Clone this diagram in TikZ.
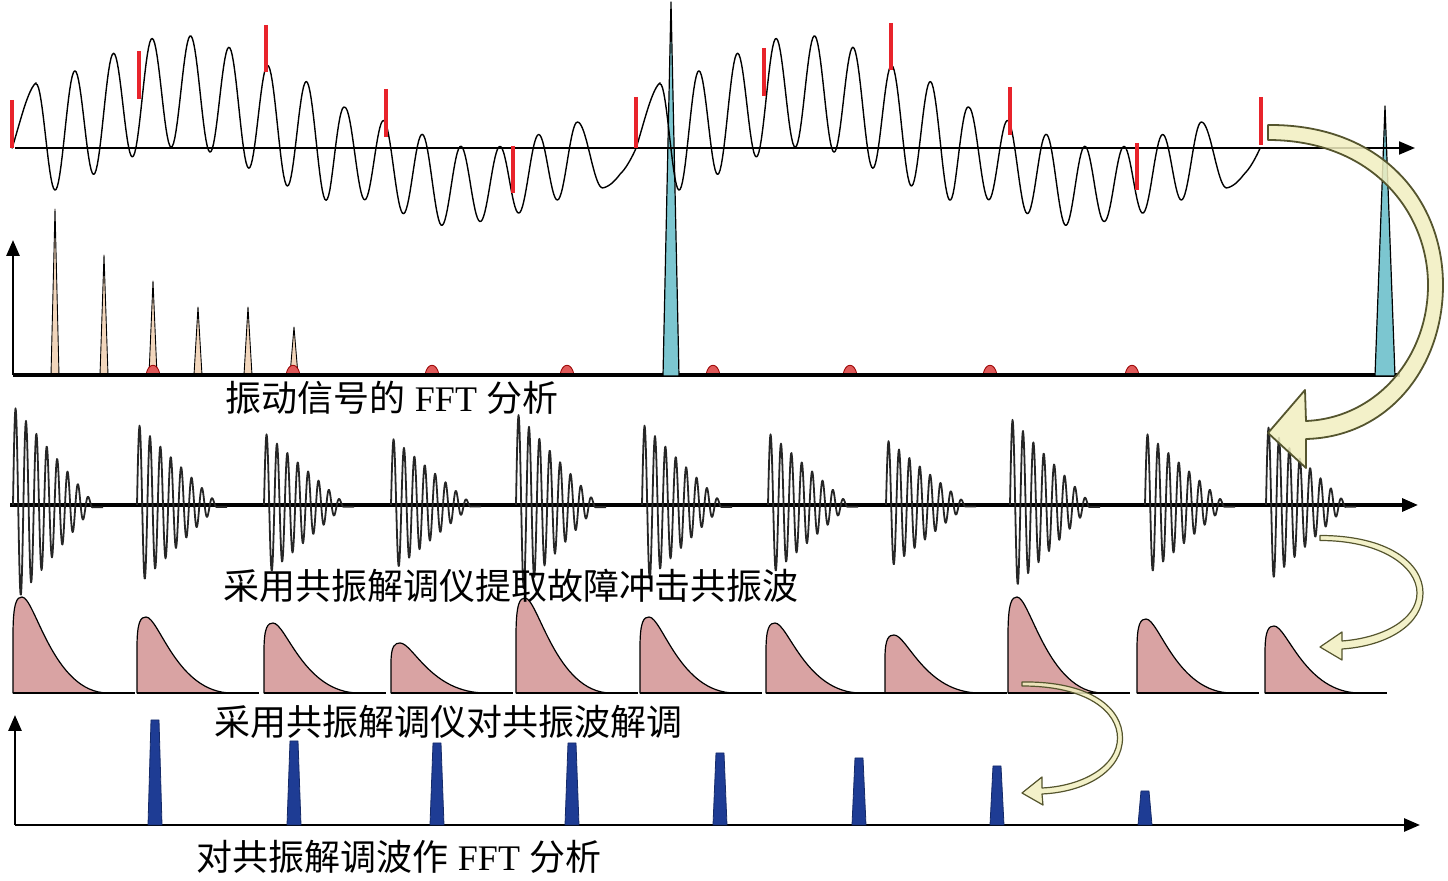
\documentclass[tikz,border=0pt]{standalone}
\usepackage{fontspec}
\setmainfont{Liberation Serif}
\newfontfamily\cjk{Noto Sans CJK SC}
\usetikzlibrary{arrows.meta}
\definecolor{spikeCyan}{HTML}{7CC6D0}
\definecolor{lineTan}{HTML}{F2D6BC}
\definecolor{bumpRed}{HTML}{E05A5A}
\definecolor{markRed}{HTML}{E8232B}
\definecolor{pulsePink}{HTML}{D9A3A3}
\definecolor{barBlue}{HTML}{1E3C94}
\definecolor{arrowFill}{HTML}{F1EFC0}
\definecolor{arrowEdge}{HTML}{55552E}

\begin{document}
\begin{tikzpicture}[x=0.5pt, y=-0.5pt, line join=round,
    sig/.style={line width=0.7pt},
    burst/.style={line width=0.9pt, black!85},
    redmark/.style={markRed, line width=2pt},
    thinaxis/.style={line width=1pt, -{Triangle[length=8pt,width=6.5pt]}},
    fataxis/.style={line width=1.6pt, -{Triangle[length=8pt,width=6.5pt]}},
    specline/.style={fill=lineTan, draw=black, line width=0.45pt},
    bump/.style={fill=bumpRed, draw=red!60!black, line width=0.4pt},
    spike/.style={fill=spikeCyan, draw=black, line width=0.6pt},
    pulse/.style={fill=pulsePink, draw=black, line width=0.6pt},
    bar/.style={fill=barBlue, draw=barBlue!70!black, line width=0.4pt},
    fatarrow/.style={fill=arrowFill, fill opacity=0.85, draw=arrowEdge, line width=0.6pt},
    lbl/.style={inner sep=0pt, font=\fontsize{18}{20}\selectfont},
    declare function={
      slowpart(\t)=57*exp(max(-9,-((\t-178)/104)^2))+57*exp(max(-9,-((\t-802)/104)^2))
                  -38*exp(max(-9,-((\t-470)/95)^2))-38*exp(max(-9,-((\t+154)/95)^2));
      ampl(\t)=56-13*min(1,max(0,(\t-330)/15))-7*min(1,max(0,(\t-440)/40))+21*min(1,max(0,(\t-620)/40));
      phas(\t)=(\t<577)?(90+360*((\t-36)/38.643)):((\t<603)?(90+180*((\t-577)/26)):((\t<636)?(270+86*((\t-603)/33)):(356+94*((\t-636)/24))));
      vib(\t)=slowpart(\t)+ampl(\t)*sin(phas(\t));
    }]
  \useasboundingbox (0,0) rectangle (1448,881);

  % Spektrum des Schwingungssignals
  \foreach \p/\h in {55/209, 104/255, 153/281, 198/307, 248/307, 294/327}
    \filldraw[specline] (\p-4,375) -- (\p,\h) -- (\p+4,375) -- cycle;
  \foreach \p in {153, 293, 432, 567, 713, 850, 990, 1132}
    \filldraw[bump] (\p-7,375) .. controls (\p-5,362) and (\p+5,362) .. (\p+7,375) -- cycle;
  \draw[line width=2.4pt] (13,375) -- (1400,375);
  \draw[line width=1.4pt, -{Triangle[length=8pt,width=6.5pt]}] (13,375) -- (13,240);
  \filldraw[spike] (663,376) -- (671,2) -- (679,376) -- cycle;
  \filldraw[spike] (1375,376) -- (1385,106) -- (1395,376) -- cycle;

  % Schwingungssignal mit Stossmarken
  \draw[thinaxis] (15,148) -- (1415,148);
  \draw[sig] plot[domain=12:36, samples=13] (\x,{148-vib(\x+624)})
    -- plot[domain=36:660, samples=500] (\x,{148-vib(\x)})
    -- plot[domain=660:1260, samples=480] (\x,{148-vib(\x-624)});
  \foreach \p/\a/\b in {12/100/148, 139/51/99, 266/25/72, 386/89/137, 513/146/193, 636/97/148,
                        764/48/96, 891/23/70, 1010/87/135, 1137/143/190, 1261/97/145}
    \draw[redmark] (\p,\a) -- (\p,\b);

  % Resonanzwellen
  \draw[fataxis] (10,505) -- (1418,505);
  \foreach \s/\a in {13/100, 137/82, 264/73, 391/68, 516/93, 642/82, 768/73, 886/66, 1010/88, 1145/73, 1266/80}
    \draw[burst] plot[domain=0:80, samples=161] ({\s+\x},{505-\a*(1-\x/82)*sin(360*(\x/10.4))}) -- ++(10,0);

  % Huellkurven
  \foreach \s/\h in {13/96, 137/76, 264/70, 391/50, 516/95, 640/76, 766/70, 885/58, 1008/96, 1137/74, 1265/67} {
    \filldraw[pulse] (\s,693) -- (\s,693-0.6*\h) .. controls (\s,693-0.95*\h) and (\s+4,693-\h) .. (\s+9,693-\h)
      .. controls (\s+22,693-\h) and (\s+40,693) .. (\s+95,693) -- cycle;
    \draw[line width=0.6pt] (\s,693) -- (\s+122,693);
  }

  % Spektrum der Huellkurve
  \draw[fataxis, line width=1.4pt] (15,825) -- (1420,825);
  \draw[fataxis, line width=1.4pt] (15,825) -- (15,715);
  \foreach \p/\h in {155/720, 294/741, 437/743, 572/743, 720/753, 859/758, 997/766, 1145/791}
    \filldraw[bar] (\p-7,825) -- (\p-4,\h) -- (\p+4,\h) -- (\p+7,825) -- cycle;

  % Pfeile
  \filldraw[fatarrow, line width=0.9pt] (1268,125) .. controls (1382,124) and (1443,200) .. (1443,285)
    .. controls (1443,368) and (1388,437) .. (1306,439) -- (1306,468) -- (1268,433) -- (1305,390) -- (1306,421)
    .. controls (1376,418) and (1428,358) .. (1428,285) .. controls (1428,212) and (1372,140) .. (1268,140) -- cycle;
  \filldraw[fatarrow] (1320,535.5) .. controls (1388,535.5) and (1423,563) .. (1423,593)
    .. controls (1423,624) and (1388,646) .. (1342,649) -- (1342,660) -- (1320,647) -- (1342,632) -- (1342,641)
    .. controls (1382,638) and (1417,620) .. (1417,593) .. controls (1417,567) and (1382,540.5) .. (1320,540.5) -- cycle;
  \filldraw[fatarrow] (1022,682) .. controls (1092,681) and (1122.5,709) .. (1122.5,738)
    .. controls (1122.5,770) and (1087,792) .. (1042,794) -- (1043,805) -- (1022,793) -- (1042,777) -- (1042,788)
    .. controls (1083,786) and (1117.5,766) .. (1117.5,738) .. controls (1117.5,712) and (1088,686) .. (1022,686) -- cycle;

  % Beschriftungen
  \node[lbl] (fftsig) at (392,398) {{\cjk 振动信号的} FFT {\cjk 分析}};
  \node[lbl] (extract) at (511,586) {{\cjk 采用共振解调仪提取故障冲击共振波}};
  \node[lbl] (demod) at (448,722) {{\cjk 采用共振解调仪对共振波解调}};
  \node[lbl] (fftenv) at (399,857) {{\cjk 对共振解调波作} FFT {\cjk 分析}};
\end{tikzpicture}
\end{document}
